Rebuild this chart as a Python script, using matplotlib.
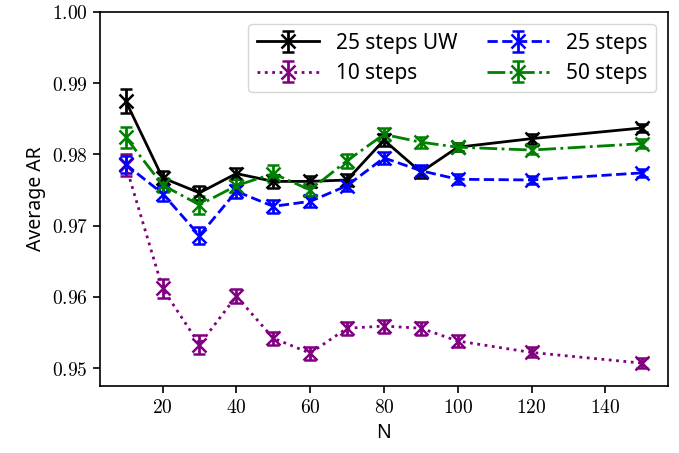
import numpy as np
import matplotlib
matplotlib.use('Agg')
import matplotlib.pyplot as plt

# 数据
N = [10, 20, 30, 40, 50, 60, 70, 80, 90, 100, 120, 150]

ar_uw25 = [0.9875, 0.9767, 0.9746, 0.9773, 0.9762, 0.9762, 0.9764, 0.9820, 0.9775, 0.9810, 0.9822, 0.9837]
err_uw25 = [0.0017, 0.0010, 0.0010, 0.0008, 0.0009, 0.0008, 0.0008, 0.0008, 0.0008, 0.0006, 0.0007, 0.0006]

ar_10 = [0.9785, 0.9612, 0.9533, 0.9601, 0.9542, 0.9521, 0.9556, 0.9559, 0.9556, 0.9538, 0.9522, 0.9507]
err_10 = [0.0015, 0.0013, 0.0013, 0.0010, 0.0009, 0.0009, 0.0009, 0.0009, 0.0009, 0.0009, 0.0007, 0.0007]

ar_25 = [0.9786, 0.9745, 0.9686, 0.9748, 0.9727, 0.9734, 0.9756, 0.9795, 0.9777, 0.9765, 0.9764, 0.9774]
err_25 = [0.0012, 0.0010, 0.0012, 0.0009, 0.0009, 0.0008, 0.0008, 0.0008, 0.0008, 0.0007, 0.0006, 0.0006]

ar_50 = [0.9824, 0.9757, 0.9729, 0.9756, 0.9773, 0.9750, 0.9791, 0.9828, 0.9817, 0.9810, 0.9806, 0.9815]
err_50 = [0.0015, 0.0010, 0.0013, 0.0009, 0.0012, 0.0009, 0.0010, 0.0009, 0.0008, 0.0006, 0.0006, 0.0006]

plt.rcParams['font.family'] = ['Noto Sans', 'DejaVu Sans']
plt.rcParams['mathtext.fontset'] = 'cm'
plt.rcParams['axes.formatter.use_mathtext'] = True

fig = plt.figure(figsize=(6.79, 4.53), dpi=100)
ax = fig.add_axes([0.147, 0.148, 0.837, 0.826])

kw = dict(marker='x', markersize=10, capsize=4, linewidth=2, elinewidth=2, markeredgewidth=1.8)
ax.errorbar(N, ar_uw25, yerr=err_uw25, color='black', linestyle='-', label='25 steps UW', **kw)
ax.errorbar(N, ar_10, yerr=err_10, color='purple', linestyle=':', label='10 steps', **kw)
ax.errorbar(N, ar_25, yerr=err_25, color='blue', linestyle='--', label='25 steps', **kw)
ax.errorbar(N, ar_50, yerr=err_50, color='green', linestyle='-.', label='50 steps', **kw)

ax.set_ylim(0.9475, 1.0)
ax.set_yticks([0.95, 0.96, 0.97, 0.98, 0.99, 1.00])
ax.set_yticklabels(['$0.95$', '$0.96$', '$0.97$', '$0.98$', '$0.99$', '$1.00$'])
ax.set_xticks([20, 40, 60, 80, 100, 120, 140])
ax.set_xticklabels(['$20$', '$40$', '$60$', '$80$', '$100$', '$120$', '$140$'])
ax.tick_params(labelsize=14, width=1.2, length=5)
for s in ax.spines.values():
    s.set_linewidth(1.2)

ax.set_xlabel('N', fontsize=14)
ax.set_ylabel('Average AR', fontsize=14)
ax.legend(loc='upper right', ncol=2, fontsize=15, handlelength=3.0, handletextpad=0.8,
          columnspacing=1.4, borderaxespad=0.6, labelspacing=0.45)

plt.savefig('out.png', dpi=100)
